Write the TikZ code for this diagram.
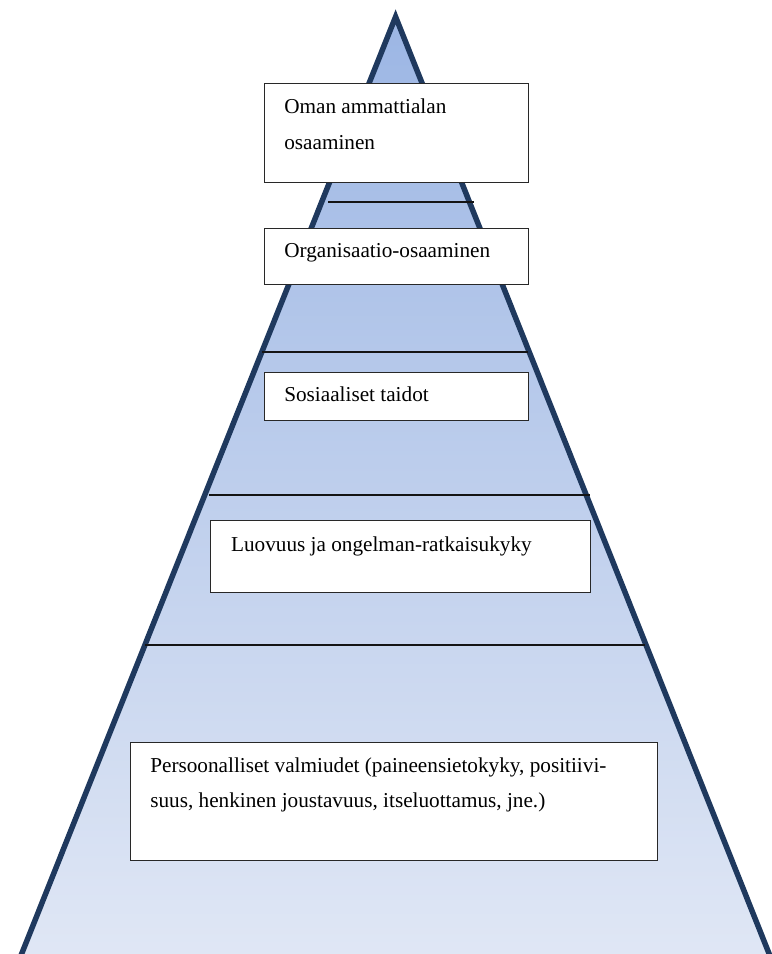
\documentclass[tikz,border=0pt]{standalone}
\usepackage{fontspec}
\setmainfont{Liberation Serif}
\usetikzlibrary{calc,positioning}
\definecolor{pyrNavy}{RGB}{31,57,94}
\definecolor{pyrTop}{RGB}{156,182,228}
\definecolor{pyrBottom}{RGB}{224,231,245}
\definecolor{pyrRule}{RGB}{20,20,20}
\definecolor{pyrFrame}{RGB}{40,40,40}
\tikzset{
  pyrside/.style={draw=pyrNavy,line width=3.9pt,line join=miter},
  pyrbox/.style={draw=pyrFrame,line width=0.85pt,fill=white,anchor=north west,inner sep=0pt},
  pyrtext/.style={font=\fontsize{15.1}{25.6}\selectfont,text=black,anchor=base west,inner sep=0pt,align=left},
  pyrrule/.style={draw=pyrRule,line width=1.3pt},
}

\begin{document}
\begin{tikzpicture}[x=1cm,y=1cm]
% Overall dimensions: 19.275 cm x 23.85 cm.
\useasboundingbox (0,0) rectangle (19.275,23.85);

% Pyramid body.
\coordinate (apex) at (9.89,23.43);
\coordinate (baseL) at (0.46,-0.2);
\coordinate (baseR) at (19.31,-0.2);
\fill[top color=pyrTop,bottom color=pyrBottom] (apex) -- (baseL) -- (baseR) -- cycle;
\draw[pyrside] (baseL) -- (apex) -- (baseR);

% Level dividers.
\draw[pyrrule] (8.20,18.80) -- (11.85,18.80);
\draw[pyrrule] (6.55,15.05) -- (13.20,15.05);
\draw[pyrrule] (5.22,11.47) -- (14.75,11.47);
\draw[pyrrule] (3.62,7.72) -- (16.12,7.72);

% Level boxes, from the top down (two-line texts sit on their last baseline).
\node[pyrbox,minimum width=6.60cm,minimum height=2.475cm] (bAmmatti) at (6.60,21.775) {};
\node[pyrtext] (tAmmatti) at ($(bAmmatti.north west)+(0.50,-1.675)$)
  {Oman ammattialan\\osaaminen};

\node[pyrbox,minimum width=6.60cm,minimum height=1.40cm] (bOrg) at (6.60,18.15) {};
\node[pyrtext] (tOrg) at ($(bOrg.north west)+(0.50,-0.75)$) {Organisaatio-osaaminen};

\node[pyrbox,minimum width=6.60cm,minimum height=1.20cm] (bSos) at (6.60,14.55) {};
\node[pyrtext] (tSos) at ($(bSos.north west)+(0.50,-0.75)$) {Sosiaaliset taidot};

\node[pyrbox,minimum width=9.50cm,minimum height=1.80cm] (bLuovuus) at (5.25,10.85) {};
\node[pyrtext] (tLuovuus) at ($(bLuovuus.north west)+(0.52,-0.80)$)
  {Luovuus ja ongelman-ratkaisukyky};

\node[pyrbox,minimum width=13.175cm,minimum height=2.95cm] (bPers) at (3.25,5.30) {};
\node[pyrtext] (tPers) at ($(bPers.north west)+(0.50,-1.65)$)
  {Persoonalliset valmiudet (paineensietokyky, positiivi-\\suus, henkinen joustavuus, itseluottamus, jne.)};
\end{tikzpicture}
\end{document}
